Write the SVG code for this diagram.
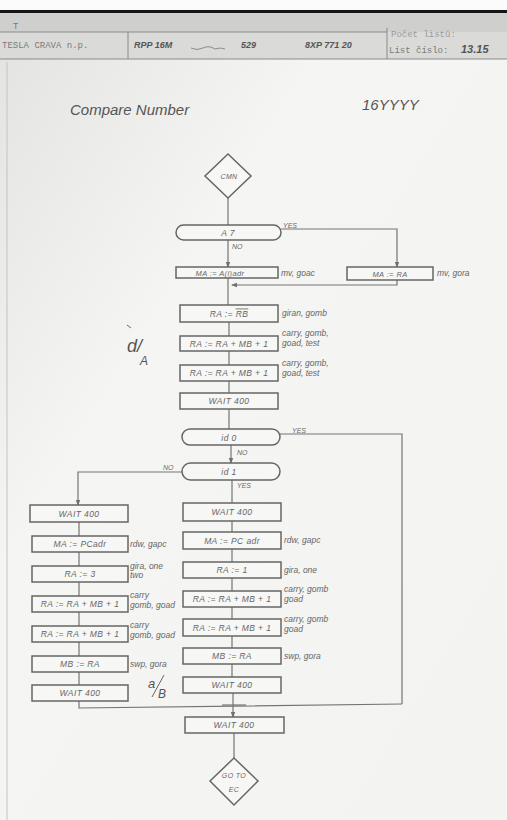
<svg xmlns="http://www.w3.org/2000/svg" width="507" height="820" viewBox="0 0 507 820">
<defs>
<marker id="arr" viewBox="0 0 6 6" refX="5" refY="3" markerWidth="5" markerHeight="5" orient="auto"><path d="M0,0.8 L6,3 L0,5.2 Z" fill="#707070"/></marker>
<linearGradient id="paper" x1="0" y1="0" x2="1" y2="1"><stop offset="0" stop-color="#e2e2e0"/><stop offset="0.35" stop-color="#f5f5f3"/><stop offset="1" stop-color="#f3f3f1"/></linearGradient>
</defs>
<style>
.box{fill:#f7f7f5;stroke:#666;stroke-width:1.5}
.dec{fill:#f7f7f5;stroke:#666;stroke-width:1.5}
.t{font-family:"Liberation Sans",Arial,sans-serif;font-style:italic;font-size:8.5px;letter-spacing:0.4px;fill:#666;text-anchor:middle}
.l{font-family:"Liberation Sans",Arial,sans-serif;font-style:italic;font-size:8.5px;fill:#666}
.yn{font-family:"Liberation Sans",Arial,sans-serif;font-style:italic;font-size:7px;fill:#6a6a6a}
.c{fill:none;stroke:#747474;stroke-width:1.2}
.hw{font-family:"Liberation Sans",Arial,sans-serif;font-style:italic;fill:#555}
.tw{font-family:"Liberation Mono","Courier New",monospace;fill:#7a7a7a;font-size:9px}
</style>
<rect x="0" y="0" width="507" height="820" fill="url(#paper)"/>
<rect x="0" y="0" width="507" height="10" fill="#fbfbfb"/>
<rect x="0" y="10" width="507" height="3" fill="#151515"/>
<g id="header">
<rect x="0" y="13" width="507" height="19" fill="#cfcfcd"/>
<rect x="0" y="32" width="507" height="27" fill="#dadad8"/>
<line x1="0" y1="32" x2="387" y2="32" stroke="#8a8a8a" stroke-width="1"/>
<line x1="0" y1="59" x2="507" y2="59" stroke="#8a8a8a" stroke-width="1"/>
<line x1="128" y1="32" x2="128" y2="59" stroke="#8a8a8a" stroke-width="1"/>
<line x1="387" y1="28" x2="387" y2="59" stroke="#8a8a8a" stroke-width="1"/>
<text x="13" y="29" class="tw">T</text>
<text x="2" y="48" class="tw">TESLA CRAVA n.p.</text>
<text x="134" y="48" class="hw" font-size="9" font-weight="bold">RPP 16M</text>
<path d="M191,48 q6,3 12,0 t12,1 q6,-2 10,0" fill="none" stroke="#777" stroke-width="0.8"/>
<text x="241" y="48" class="hw" font-size="9" font-weight="bold">529</text>
<text x="305" y="48" class="hw" font-size="9" font-weight="bold">8XP 771 20</text>
<text x="391" y="37" class="tw" style="fill:#9a9a9a">Počet listů:</text>
<text x="389" y="53" class="tw">List číslo:</text>
<text x="461" y="53" class="hw" font-size="11" font-weight="bold">13.15</text>
</g>
<line x1="7" y1="62" x2="7" y2="820" stroke="#c4c4c4" stroke-width="1"/>
<text x="70" y="115" class="hw" font-size="15" fill="#555">Compare Number</text>
<text x="362" y="110" class="hw" font-size="15" fill="#555">16YYYY</text>
<g id="connectors">
<path class="c" d="M228,198 V225"/>
<path class="c" d="M228,240 V267" marker-end="url(#arr)"/>
<path class="c" d="M281,229 H397 V267" marker-end="url(#arr)"/>
<path class="c" d="M397,280 V285 H232" marker-end="url(#arr)"/>
<path class="c" d="M228,278 V305"/>
<path class="c" d="M229,322 V336"/>
<path class="c" d="M229,351 V365"/>
<path class="c" d="M229,381 V393"/>
<path class="c" d="M229,409 V429"/>
<path class="c" d="M280,434 H402 V704"/>
<path class="c" d="M231,445 V463" marker-end="url(#arr)"/>
<path class="c" d="M182,472 H78 V505" marker-end="url(#arr)"/>
<path class="c" d="M232,480 V503"/>
<path class="c" d="M232,521 V532"/>
<path class="c" d="M232,549 V562"/>
<path class="c" d="M232,578 V591"/>
<path class="c" d="M232,607 V619"/>
<path class="c" d="M232,636 V648"/>
<path class="c" d="M232,664 V677"/>
<path class="c" d="M79,522 V536"/>
<path class="c" d="M79,552 V566"/>
<path class="c" d="M79,582 V596"/>
<path class="c" d="M79,612 V626"/>
<path class="c" d="M79,642 V656"/>
<path class="c" d="M79,672 V685"/>
<path class="c" d="M79,701 V708 L402,704"/>
<path class="c" d="M233,693 V717" marker-end="url(#arr)"/>
<path class="c" d="M222,705 H246"/>
<path class="c" d="M234,733 V758"/>
</g>
<g id="n-cmn"><path class="dec" d="M228,154 L251,176 L228,198 L205,176 Z"/><text x="229" y="179" class="t" font-size="7" style="font-size:7px">CMN</text></g>
<g id="n-a7"><rect class="dec" x="176" y="225" width="105" height="15" rx="7.5"/><text x="228" y="236" class="t">A 7</text></g>
<text x="283" y="228" class="yn">YES</text>
<text x="232" y="249" class="yn">NO</text>
<g id="n-ma-ai"><rect class="box" x="176" y="267" width="102" height="11"/><text x="220" y="275.5" class="t" style="font-size:7.5px">MA := A(i)adr</text><text x="281" y="276" class="l">mv, goac</text></g>
<g id="n-ma-ra"><rect class="box" x="347" y="267" width="86" height="13"/><text x="390" y="276.5" class="t" style="font-size:7.5px">MA := RA</text><text x="437" y="276" class="l">mv, gora</text></g>
<g id="n-ra-rb"><rect class="box" x="180" y="305" width="98" height="17"/><text x="229" y="316.5" class="t">RA := <tspan text-decoration="overline">RB</tspan></text><text x="282" y="316" class="l">giran, gomb</text></g>
<g id="n-add1"><rect class="box" x="180" y="336" width="98" height="15"/><text x="229" y="346.5" class="t">RA := RA + MB + 1</text><text x="282" y="336" class="l">carry, gomb,</text><text x="282" y="346" class="l">goad, test</text></g>
<g id="n-add2"><rect class="box" x="180" y="365" width="98" height="16"/><text x="229" y="376" class="t">RA := RA + MB + 1</text><text x="282" y="366" class="l">carry, gomb,</text><text x="282" y="376" class="l">goad, test</text></g>
<g id="n-wait1"><rect class="box" x="180" y="393" width="98" height="16"/><text x="229" y="404" class="t">WAIT 400</text></g>
<text x="127" y="352" class="hw" font-size="18" fill="#666" font-style="normal">d/</text>
<text x="140" y="365" class="hw" font-size="12" fill="#666">A</text>
<path d="M127,325 l4,3" stroke="#666" stroke-width="1"/>
<g id="n-id0"><rect class="dec" x="182" y="429" width="98" height="16" rx="8"/><text x="229" y="440.5" class="t">id 0</text></g>
<text x="292" y="433" class="yn">YES</text>
<text x="237" y="455" class="yn">NO</text>
<g id="n-id1"><rect class="dec" x="182" y="463" width="98" height="17" rx="8.5"/><text x="229" y="475" class="t">id 1</text></g>
<text x="163" y="470" class="yn">NO</text>
<text x="237" y="488" class="yn">YES</text>
<g id="n-l-wait1"><rect class="box" x="30" y="505" width="98" height="17"/><text x="79" y="516.5" class="t">WAIT 400</text></g>
<g id="n-l-mapc"><rect class="box" x="32" y="536" width="96" height="16"/><text x="80" y="547" class="t">MA := PCadr</text><text x="130" y="547" class="l">rdw, gapc</text></g>
<g id="n-l-ra3"><rect class="box" x="32" y="566" width="96" height="16"/><text x="80" y="577" class="t">RA := 3</text><text x="130" y="569" class="l">gira, one</text><text x="130" y="578" class="l">two</text></g>
<g id="n-l-add1"><rect class="box" x="32" y="596" width="96" height="16"/><text x="80" y="607" class="t">RA := RA + MB + 1</text><text x="130" y="598" class="l">carry</text><text x="130" y="608" class="l">gomb, goad</text></g>
<g id="n-l-add2"><rect class="box" x="32" y="626" width="96" height="16"/><text x="80" y="637" class="t">RA := RA + MB + 1</text><text x="130" y="628" class="l">carry</text><text x="130" y="638" class="l">gomb, goad</text></g>
<g id="n-l-mbra"><rect class="box" x="32" y="656" width="96" height="16"/><text x="80" y="667" class="t">MB := RA</text><text x="130" y="667" class="l">swp, gora</text></g>
<g id="n-l-wait2"><rect class="box" x="32" y="685" width="96" height="16"/><text x="80" y="696" class="t">WAIT 400</text></g>
<text x="148" y="688" class="hw" font-size="13" fill="#666">a</text>
<path d="M152,697 L164,675" stroke="#666" stroke-width="1"/>
<text x="158" y="698" class="hw" font-size="12" fill="#666">B</text>
<g id="n-m-wait1"><rect class="box" x="183" y="503" width="98" height="18"/><text x="232" y="515" class="t">WAIT 400</text></g>
<g id="n-m-mapc"><rect class="box" x="183" y="532" width="98" height="17"/><text x="232" y="543.5" class="t">MA := PC adr</text><text x="284" y="543" class="l">rdw, gapc</text></g>
<g id="n-m-ra1"><rect class="box" x="183" y="562" width="98" height="16"/><text x="232" y="573" class="t">RA := 1</text><text x="284" y="573" class="l">gira, one</text></g>
<g id="n-m-add1"><rect class="box" x="183" y="591" width="98" height="16"/><text x="232" y="602" class="t">RA := RA + MB + 1</text><text x="284" y="592" class="l">carry, gomb</text><text x="284" y="602" class="l">goad</text></g>
<g id="n-m-add2"><rect class="box" x="183" y="619" width="98" height="17"/><text x="232" y="630.5" class="t">RA := RA + MB + 1</text><text x="284" y="622" class="l">carry, gomb</text><text x="284" y="632" class="l">goad</text></g>
<g id="n-m-mbra"><rect class="box" x="183" y="648" width="98" height="16"/><text x="232" y="659" class="t">MB := RA</text><text x="284" y="659" class="l">swp, gora</text></g>
<g id="n-m-wait2"><rect class="box" x="183" y="677" width="98" height="16"/><text x="232" y="688" class="t">WAIT 400</text></g>
<g id="n-wait-final"><rect class="box" x="185" y="717" width="99" height="16"/><text x="234" y="728" class="t">WAIT 400</text></g>
<g id="n-goto"><path class="dec" d="M234,758 L258,781 L234,805 L210,781 Z"/><text x="234" y="778" class="t" style="font-size:7px">GO TO</text><text x="234" y="792" class="t" style="font-size:7px">EC</text></g>
</svg>
